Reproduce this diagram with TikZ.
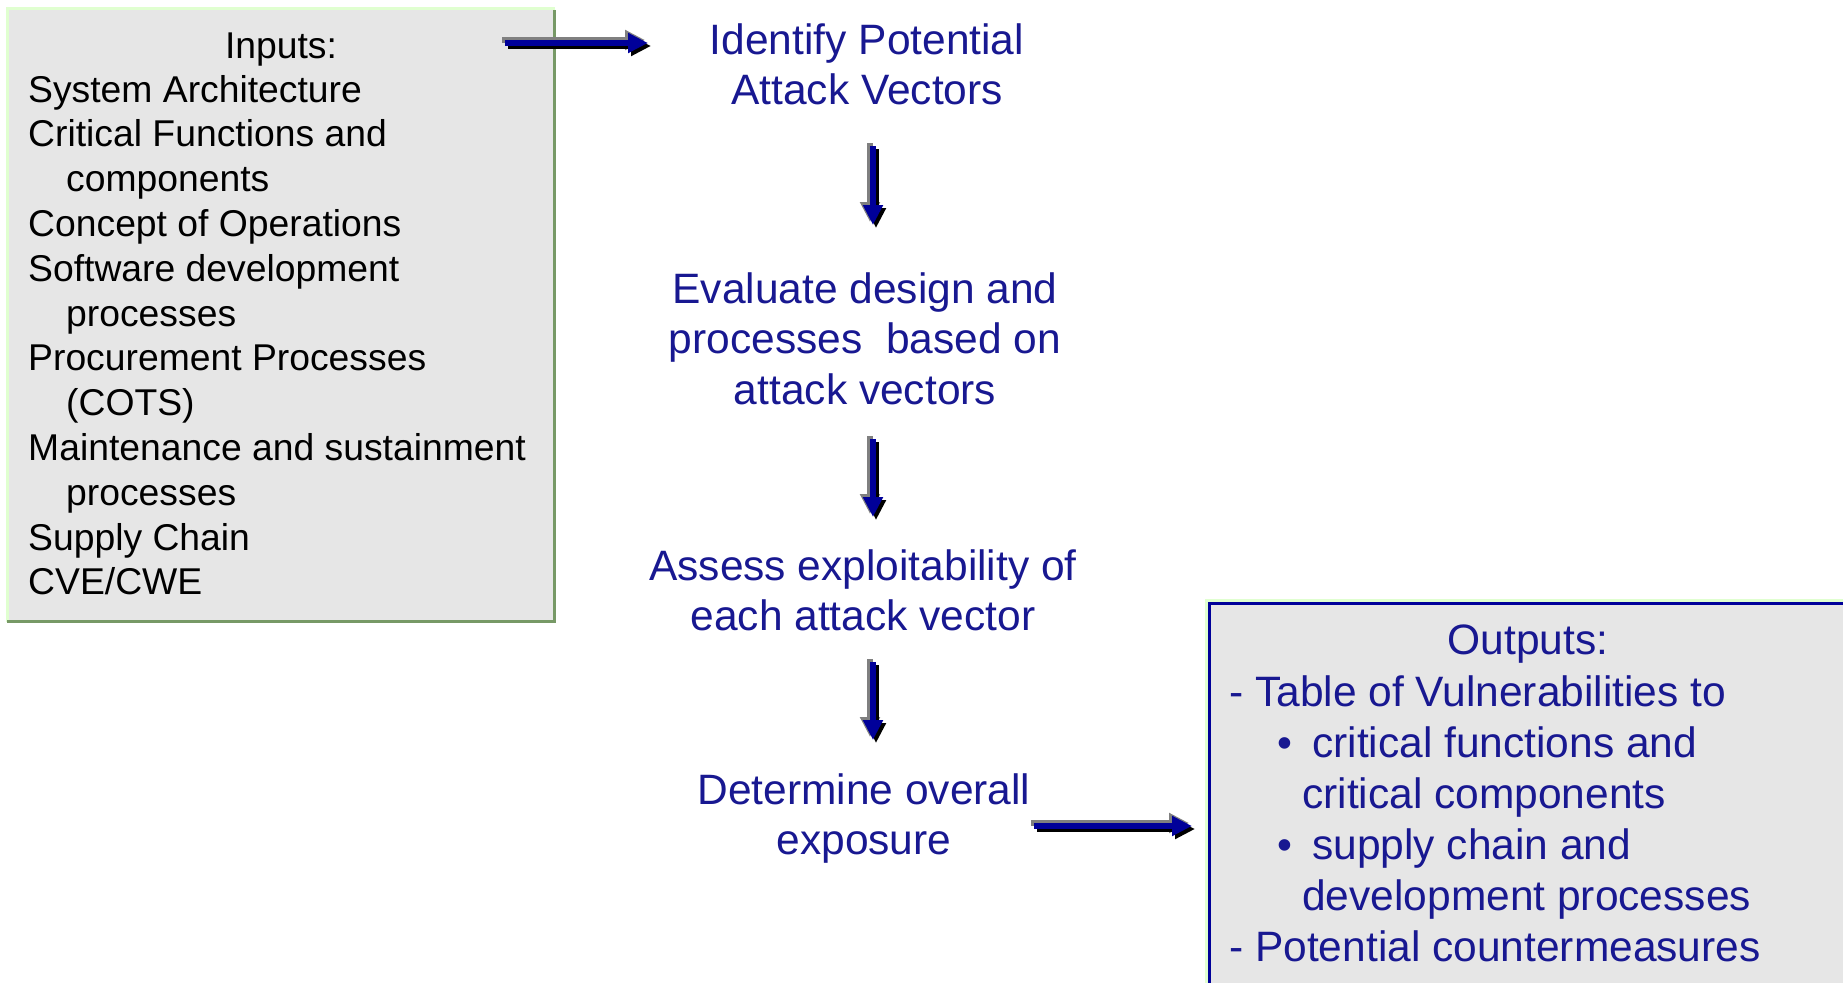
\documentclass[tikz,border=0pt]{standalone}
\usepackage{fontspec}
\setmainfont{Liberation Sans}
\usetikzlibrary{arrows.meta}

\definecolor{textblue}{RGB}{24,24,145}
\definecolor{arrowblue}{RGB}{0,0,153}
\definecolor{panelgray}{RGB}{230,230,230}
\definecolor{paleedge}{RGB}{224,255,208}
\definecolor{oliveedge}{RGB}{119,153,102}
\definecolor{shaftgray}{RGB}{128,128,128}

\tikzset{
  smalltext/.style={font=\fontsize{37.3}{44.8}\selectfont, inner sep=0pt, text=black},
  bigtext/.style={font=\fontsize{42.5}{50.5}\selectfont, inner sep=0pt, text=textblue},
  outtext/.style={font=\fontsize{42.5}{51}\selectfont, inner sep=0pt, text=textblue},
  stepnode/.style={bigtext, align=center, anchor=north},
  fathead/.style={-{Triangle[length=20pt,width=19pt]}},
  fatbase/.style={line width=6pt, fathead},
  fatarrow/.style={fatbase, draw=arrowblue,
    preaction={fatbase, draw=shaftgray, transform canvas={shift={(-3pt,3pt)}}},
    preaction={fatbase, draw=black, transform canvas={shift={(3pt,-3pt)}}}},
}

\begin{document}
\begin{tikzpicture}[x=1pt,y=-1pt]
\useasboundingbox (0,0) rectangle (1843,982);

% ---- inputs panel
\fill[panelgray] (9,10) rectangle (554,621);
\draw[paleedge, line width=3pt] (555,8.5) -- (7.5,8.5) -- (7.5,622);
\draw[oliveedge, line width=3pt] (554.5,10) -- (554.5,621.5) -- (7,621.5);

\node[smalltext, anchor=north] (intitle) at (281,26.6) {\strut Inputs:};
\node[smalltext, anchor=north west, align=left] (inlist) at (28,70.6) {%
\strut System Architecture\\
\strut Critical Functions and\\
\strut\hspace*{38pt}components\\
\strut Concept of Operations\\
\strut Software development\\
\strut\hspace*{38pt}processes\\
\strut Procurement Processes\\
\strut\hspace*{38pt}(COTS)\\
\strut Maintenance and sustainment\\
\strut\hspace*{38pt}processes\\
\strut Supply Chain\\
\strut CVE/CWE};

% ---- outputs panel
\fill[panelgray] (1211,605) rectangle (1850,990);
\draw[paleedge, line width=3pt] (1850,600.5) -- (1206.5,600.5) -- (1206.5,990);
\draw[arrowblue, line width=3pt] (1850,603.5) -- (1209.5,603.5) -- (1209.5,990);

\node[outtext, anchor=north] (outtitle) at (1528,618.3) {\strut Outputs:};
\node[outtext, anchor=north west, align=left] (outlist) at (1229,670.3) {%
\strut - Table of Vulnerabilities to\\
\strut\hspace*{48pt}\makebox[35pt][l]{•}critical functions and\\
\strut\hspace*{73pt}critical components\\
\strut\hspace*{48pt}\makebox[35pt][l]{•}supply chain and\\
\strut\hspace*{73pt}development processes\\
\strut - Potential countermeasures};

% ---- process steps
\node[stepnode] (identify) at (867,18.6) {\strut Identify Potential\\\strut Attack Vectors};
\node[stepnode] (evaluate) at (865,267.6) {\strut Evaluate design and\\\strut processes\ \ based on\\\strut attack vectors};
\node[stepnode] (assess) at (863,544.6) {\strut Assess exploitability of\\\strut each attack vector};
\node[stepnode] (determine) at (864,768.6) {\strut Determine overall\\\strut exposure};

% ---- arrow end points
\coordinate (inA) at (505,43);
\coordinate (inB) at (648,43);
\coordinate (v1a) at (873,146);
\coordinate (v1b) at (873,225);
\coordinate (v2a) at (873,439);
\coordinate (v2b) at (873,517);
\coordinate (v3a) at (873,662);
\coordinate (v3b) at (873,740);
\coordinate (outA) at (1034,826);
\coordinate (outB) at (1192,826);

% ---- arrows
\draw[fatarrow] (inA) -- (inB);
\draw[fatarrow] (v1a) -- (v1b);
\draw[fatarrow] (v2a) -- (v2b);
\draw[fatarrow] (v3a) -- (v3b);
\draw[fatarrow] (outA) -- (outB);
\end{tikzpicture}
\end{document}
